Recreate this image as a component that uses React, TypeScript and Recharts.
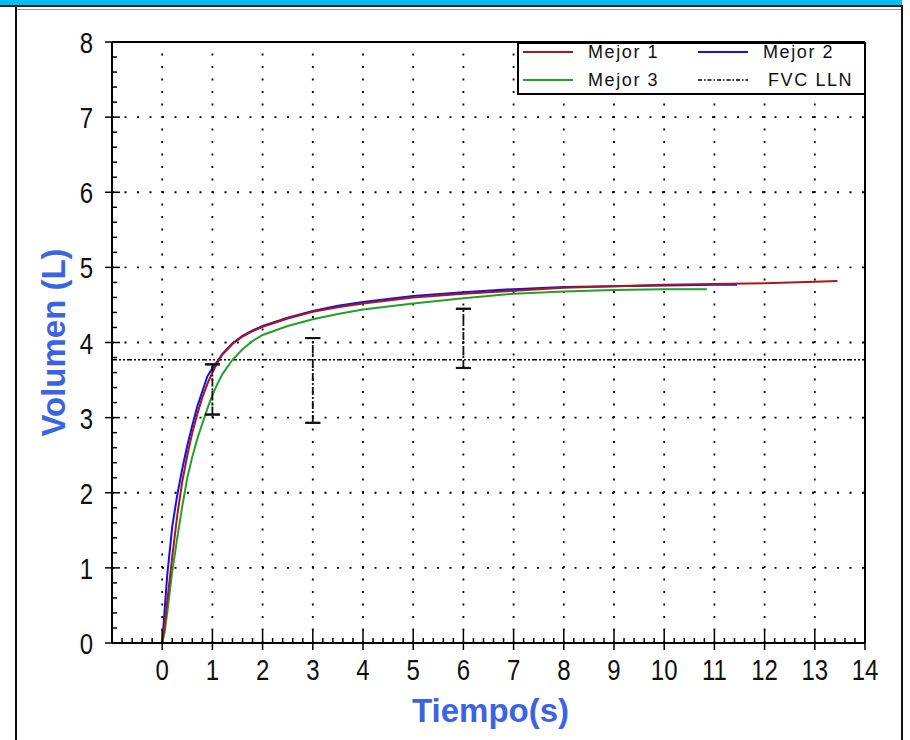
import { ComposedChart, ErrorBar, Label, Legend, Line, ReferenceLine, Scatter, XAxis, YAxis } from 'recharts'

// curves (time in s, volume in L)
const mejor1T = [0, 0.05, 0.1, 0.2, 0.3, 0.4, 0.5, 0.6, 0.7, 0.8, 0.9, 1.0, 1.1, 1.2, 1.4, 1.6, 1.8, 2.0, 2.5, 3.0, 3.5, 4.0, 5.0, 6.0, 7.0, 8.0, 9.0, 10.0, 11.0, 12.0, 13.0, 13.45]
const mejor1V = [0, 0.25, 0.55, 1.15, 1.7, 2.15, 2.5, 2.8, 3.05, 3.27, 3.45, 3.6, 3.73, 3.84, 3.98, 4.08, 4.15, 4.21, 4.32, 4.41, 4.47, 4.52, 4.6, 4.65, 4.69, 4.73, 4.75, 4.77, 4.78, 4.79, 4.81, 4.82]

const mejor2T = [0, 0.05, 0.1, 0.2, 0.3, 0.4, 0.5, 0.6, 0.7, 0.8, 0.9, 1.0, 1.1, 1.2, 1.4, 1.6, 1.8, 2.0, 2.5, 3.0, 3.5, 4.0, 5.0, 6.0, 7.0, 8.0, 9.0, 10.0, 11.0, 11.45]
const mejor2V = [0, 0.45, 0.9, 1.55, 1.97, 2.32, 2.63, 2.9, 3.15, 3.35, 3.55, 3.66, 3.75, 3.85, 3.99, 4.09, 4.16, 4.22, 4.33, 4.42, 4.49, 4.54, 4.62, 4.67, 4.71, 4.74, 4.75, 4.76, 4.77, 4.77]

const mejor3T = [0, 0.05, 0.1, 0.2, 0.3, 0.4, 0.5, 0.6, 0.7, 0.8, 0.9, 1.0, 1.1, 1.2, 1.4, 1.6, 1.8, 2.0, 2.5, 3.0, 3.5, 4.0, 5.0, 6.0, 7.0, 8.0, 9.0, 10.0, 10.85]
const mejor3V = [0, 0.15, 0.4, 0.95, 1.4, 1.82, 2.2, 2.48, 2.72, 2.92, 3.12, 3.3, 3.45, 3.58, 3.77, 3.91, 4.02, 4.1, 4.22, 4.31, 4.38, 4.44, 4.52, 4.59, 4.65, 4.68, 4.7, 4.71, 4.71]

const fvcLln = 3.77

// predicted ranges
const barT = [1, 3, 6]
const barLow = [3.04, 2.93, 3.66]
const barHigh = [3.71, 4.06, 4.45]

// dotted grid positions
const xGrid = [0, 1, 2, 3, 4, 5, 6, 7, 8, 9, 10, 11, 12, 13]
const yGrid = [1, 2, 3, 4, 5, 6, 7]

const series = [
  { name: 'Mejor 1', color: '#a81818', t: mejor1T, v: mejor1V },
  { name: 'Mejor 2', color: '#1010f0', t: mejor2T, v: mejor2V },
  { name: 'Mejor 3', color: '#22a02a', t: mejor3T, v: mejor3V },
]
// red sits on top in the picture
const drawOrder = [1, 2, 0]

const minorTicks = (from: number, to: number) => {
  const out: number[] = []
  for (let i = Math.round(from * 5); i <= Math.round(to * 5); i++) out.push(i / 5)
  return out
}

const SANS = "'Liberation Sans', Arial, sans-serif"
const TITLE_COLOR = '#3b64e2'

function XTick(props: any) {
  const { x, y, payload } = props
  const v = payload.value
  if (!(Number.isInteger(v) && v >= 0)) {
    return <line x1={x} x2={x} y1={y} y2={y - 5} stroke="#000" strokeWidth={1.5} />
  }
  return (
    <g>
      <line x1={x} x2={x} y1={y - 13} y2={y + 7} stroke="#000" strokeWidth={1.5} />
      <text transform={`translate(${x} ${y + 37}) scale(0.8 1)`} textAnchor="middle" fontFamily={SANS} fontSize={30} fill="#111">
        {v}
      </text>
    </g>
  )
}

function YTick(props: any) {
  const { x, y, payload } = props
  const v = payload.value
  if (!Number.isInteger(v)) {
    return <line x1={x} x2={x + 5} y1={y} y2={y} stroke="#000" strokeWidth={1.5} />
  }
  return (
    <g>
      <line x1={x - 7} x2={x + 8} y1={y} y2={y} stroke="#000" strokeWidth={1.5} />
      <text transform={`translate(${x - 19} ${y + 11}) scale(0.8 1)`} textAnchor="end" fontFamily={SANS} fontSize={30} fill="#111">
        {v}
      </text>
    </g>
  )
}

function LegendBox() {
  const items = [
    { name: 'Mejor 1', color: series[0].color, dash: undefined, col: 0, row: 0 },
    { name: 'Mejor 2', color: series[1].color, dash: undefined, col: 1, row: 0 },
    { name: 'Mejor 3', color: series[2].color, dash: undefined, col: 0, row: 1 },
    { name: 'FVC LLN', color: '#000', dash: '4 2 1.5 2', col: 1, row: 1 },
  ]
  return (
    <svg width={349} height={53} style={{ display: 'block' }}>
      <rect x={1} y={1} width={347} height={51} fill="#fff" stroke="#000" strokeWidth={2} />
      {items.map((it) => {
        const lx = it.col === 0 ? 6 : 181
        const cy = it.row === 0 ? 10 : 38
        const tx = it.col === 0 ? 71 : it.row === 0 ? 246 : 251
        return (
          <g key={it.name}>
            <line x1={lx} x2={lx + 50} y1={cy} y2={cy} stroke={it.color} strokeWidth={it.dash ? 1.5 : 2} strokeDasharray={it.dash} />
            <text x={tx} y={cy + 6} fontFamily={SANS} fontSize={18} letterSpacing={1.6} fill="#111">
              {it.name}
            </text>
          </g>
        )
      })}
    </svg>
  )
}

export default function App() {
  // dashed stems and solid caps drawn as two error-bar layers
  const stemData = barT.map((t, i) => ({ t, v: barLow[i], err: [0, barHigh[i] - barLow[i]] }))
  const capData = barT.flatMap((t, i) => [
    { t, v: barLow[i], err: [0, 0.002] },
    { t, v: barHigh[i], err: [0.002, 0] },
  ])

  return (
    <div style={{ position: 'fixed', left: 0, top: 0, width: 910, height: 740, background: '#fff', overflow: 'hidden' }}>
      {/* window chrome */}
      <div style={{ position: 'absolute', left: 0, top: 0, width: 902, height: 5, background: '#00bff0' }} />
      <div style={{ position: 'absolute', left: 0, top: 5, width: 903, height: 2, background: '#222' }} />
      <div style={{ position: 'absolute', left: 17, top: 9, width: 884, height: 1, background: '#999' }} />
      <div style={{ position: 'absolute', left: 15, top: 7, width: 2, height: 733, background: '#111' }} />
      <div style={{ position: 'absolute', left: 901, top: 5, width: 2, height: 735, background: '#111' }} />

      <ComposedChart width={910} height={740} margin={{ top: 42, right: 45, bottom: 37, left: 52 }}>
        <XAxis
          type="number"
          dataKey="t"
          domain={[-1, 14]}
          ticks={minorTicks(-1, 14)}
          interval={0}
          allowDataOverflow
          height={60}
          tickLine={false}
          tickSize={0}
          tickMargin={0}
          axisLine={{ stroke: '#000', strokeWidth: 2 }}
          tick={<XTick />}
        >
          <Label
            content={(p: any) => (
              <text
                x={p.viewBox.x + p.viewBox.width / 2 + 2}
                y={p.viewBox.y + 79}
                textAnchor="middle"
                fontFamily={SANS}
                fontWeight="bold"
                fontSize={33}
                fill={TITLE_COLOR}
              >
                Tiempo(s)
              </text>
            )}
          />
        </XAxis>
        <YAxis
          type="number"
          domain={[0, 8]}
          ticks={minorTicks(0, 8)}
          interval={0}
          allowDataOverflow
          width={60}
          tickLine={false}
          tickSize={0}
          tickMargin={0}
          axisLine={{ stroke: '#000', strokeWidth: 2 }}
          tick={<YTick />}
        >
          <Label
            content={(p: any) => {
              const cx = p.viewBox.x + 1
              const cy = p.viewBox.y + p.viewBox.height / 2
              return (
                <text
                  x={cx}
                  y={cy}
                  transform={`rotate(-90 ${cx} ${cy})`}
                  textAnchor="middle"
                  dominantBaseline="central"
                  fontFamily={SANS}
                  fontWeight="bold"
                  fontSize={33}
                  fill={TITLE_COLOR}
                >
                  Volumen (L)
                </text>
              )
            }}
          />
        </YAxis>

        {xGrid.map((v) => (
          <ReferenceLine key={`gx${v}`} x={v} stroke="#000" strokeWidth={1.8} strokeDasharray="2 10.5" />
        ))}
        {yGrid.map((v) => (
          <ReferenceLine key={`gy${v}`} y={v} stroke="#000" strokeWidth={1.8} strokeDasharray="2 10.5" />
        ))}

        {/* plot frame top and right */}
        <ReferenceLine y={8} stroke="#000" strokeWidth={2} />
        <ReferenceLine x={14} stroke="#000" strokeWidth={2} />

        <ReferenceLine y={fvcLln} stroke="#000" strokeWidth={1.5} strokeDasharray="5 2 2 2 2 2" />

        {drawOrder.map((k) => {
          const s = series[k]
          return (
            <Line
              key={s.name}
              data={s.t.map((t, i) => ({ t, v: s.v[i] }))}
              dataKey="v"
              name={s.name}
              type="linear"
              stroke={s.color}
              strokeWidth={2}
              dot={false}
              activeDot={false}
              isAnimationActive={false}
            />
          )
        })}

        <Scatter data={stemData} dataKey="v" shape={() => <g />} isAnimationActive={false} legendType="none">
          <ErrorBar dataKey="err" direction="y" width={0} stroke="#111" strokeWidth={1.8} strokeDasharray="8 2 2 2" isAnimationActive={false} />
        </Scatter>
        <Scatter data={capData} dataKey="v" shape={() => <g />} isAnimationActive={false} legendType="none">
          <ErrorBar dataKey="err" direction="y" width={7.5} stroke="#111" strokeWidth={2} isAnimationActive={false} />
        </Scatter>

        <Legend
          layout="horizontal"
          verticalAlign="middle"
          align="center"
          wrapperStyle={{ position: 'absolute', left: 517, top: 42, width: 349, height: 53 }}
          content={() => <LegendBox />}
        />
      </ComposedChart>
    </div>
  )
}
